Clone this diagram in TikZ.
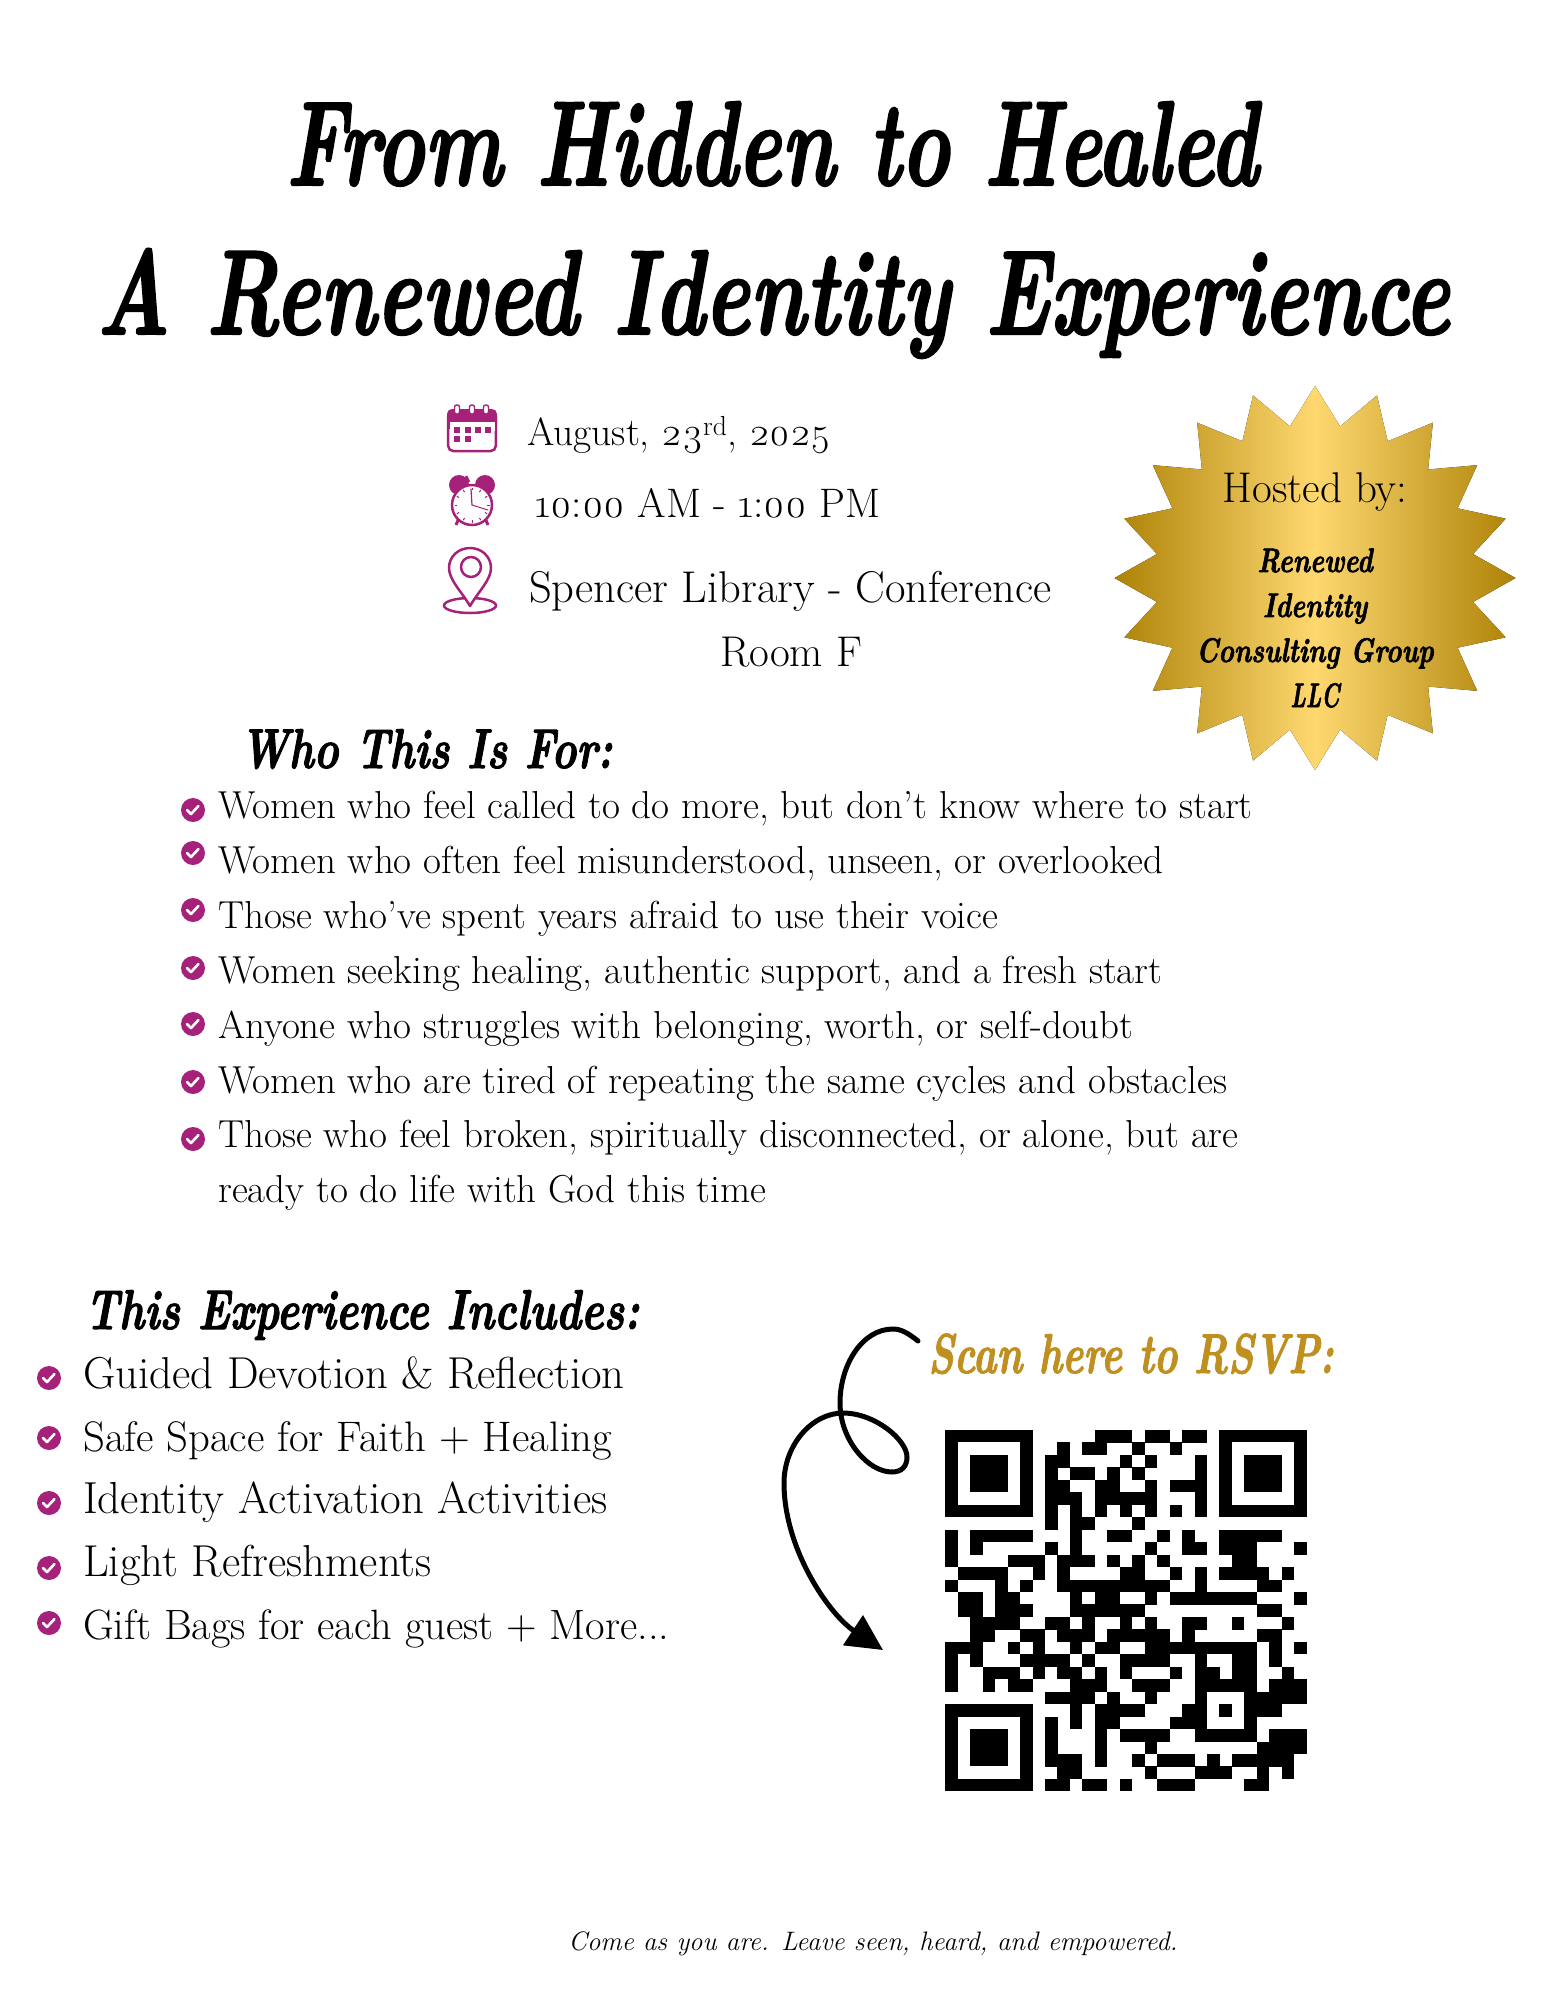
\documentclass[tikz,border=0pt]{standalone}
\usepackage{fontspec}
\setmainfont{Latin Modern Roman}[Numbers=OldStyle]
\newfontfamily\brushfont{Latin Modern Roman}[FakeBold=2]
\usetikzlibrary{arrows.meta}
\definecolor{plumink}{HTML}{A6217A}
\definecolor{goldink}{HTML}{BF9020}
\definecolor{sealedge}{HTML}{AD8207}
\definecolor{sealmid}{HTML}{FED870}
\newcommand{\squeezed}[2]{\scalebox{#1}[1]{#2}}
\begin{document}
\begin{tikzpicture}[x=1pt,y=-1pt,
    titletext/.style ={anchor=base, inner sep=0pt, font=\brushfont\bfseries\itshape\fontsize{120}{124}\selectfont},
    headtext/.style ={anchor=base west, inner sep=0pt, font=\brushfont\bfseries\itshape\fontsize{56}{60}\selectfont},
    sealtext/.style ={anchor=base, inner sep=0pt, font=\brushfont\bfseries\itshape\fontsize{34}{38}\selectfont},
    infotext/.style ={anchor=base west, inner sep=0pt},
    listtext/.style ={anchor=base west, inner sep=0pt, font=\fontsize{39}{42}\selectfont},
    checkdot/.style ={circle, fill=plumink, inner sep=0pt, minimum size=24pt},
    tickline/.style ={draw=white, line width=2.6pt, line cap=round, line join=round},
    plumline/.style ={draw=plumink, line width=2.5pt}]
   \useasboundingbox (0,0) rectangle (1545,2000);

   \node[titletext] (title1) at (772,185) {\squeezed{0.688}{From Hidden to Healed}};
   \node[titletext] (title2) at (773,334) {\squeezed{0.713}{A Renewed Identity Experience}};

   % date, time and place
   \node[infotext, font=\fontsize{39.4}{44}\selectfont] (date) at (527,445) {August, 23\textsuperscript{rd}, 2025};
   \node[infotext, font=\fontsize{41.2}{44}\selectfont] (time) at (535,517) {10:00 AM - 1:00 PM};
   \node[infotext, font=\fontsize{44.5}{48}\selectfont] (place) at (529,602) {Spencer Library - Conference};
   \node[infotext, anchor=base, font=\fontsize{43}{46}\selectfont] (room) at (791,666) {Room F};

   % calendar
   \fill[plumink, rounded corners=5pt] (447,409) rectangle (497,430);
   \draw[plumline, rounded corners=5pt] (448.2,412) rectangle (495.8,451);
   \fill[white] (449.5,421.7) rectangle (494.5,431);
   \foreach \cx in {457,472,486}
     \draw[draw=plumink, line width=1.4pt, fill=white, rounded corners=2pt] (\cx-2.5,405) rectangle (\cx+2.5,414);
   \foreach \cx in {457,468,478,488}
     \fill[plumink] (\cx-3,426.5) rectangle (\cx+3,432.5);
   \foreach \cx in {457,468}
     \fill[plumink] (\cx-3,436) rectangle (\cx+3,442);

   % clock
   \fill[plumink] (459,485) circle (10);
   \fill[plumink] (485,485) circle (10);
   \draw[plumink, line width=2.5pt] (466,476) -- (469,482);
   \draw[plumink, line width=3pt] (459,518) -- (456,525);
   \draw[plumink, line width=3pt] (485,518) -- (488,525);
   \draw[plumline, fill=white] (472,505) circle (20);
   \foreach \a in {0,30,...,330}
     \draw[plumink, line width=1pt] (472,505) ++(\a:15) -- ++(\a:2.5);
   \draw[plumink, line width=1.2pt, line cap=round] (472,505) -- (471,489);
   \draw[plumink, line width=1pt, line cap=round] (472,505) -- (488,510);

   % pin
   \draw[plumline] (470,605.5) ellipse (26 and 7.5);
   \draw[plumline, fill=white, line join=round] (470,606) .. controls (462,592) and (449,580) .. (449,568)
      .. controls (449,556) and (459,548) .. (470,548)
      .. controls (481,548) and (491,556) .. (491,568)
      .. controls (491,580) and (478,592) .. (470,606) -- cycle;
   \draw[plumline] (471,567) circle (10);

   % gold seal
   \fill[left color=sealedge, right color=sealedge, middle color=sealmid]
     plot[samples at={0,...,39}, variable=\n] ({1315+(mod(\n,2)==0 ? 200.5 : 160)*cos(9*\n)},{578+(mod(\n,2)==0 ? 192 : 153.5)*sin(9*\n)}) -- cycle;
   \node[anchor=base, inner sep=0pt, font=\fontsize{43}{46}\selectfont] (host) at (1315,502) {Hosted by:};
   \node[sealtext] (seal1) at (1315,572) {\squeezed{0.78}{Renewed}};
   \node[sealtext] (seal2) at (1315,617) {\squeezed{0.78}{Identity}};
   \node[sealtext] (seal3) at (1315,662) {\squeezed{0.78}{Consulting Group}};
   \node[sealtext] (seal4) at (1315,707) {\squeezed{0.65}{LLC}};

   % who it is for
   \node[headtext] (whohead) at (240,768) {\squeezed{0.75}{Who This Is For:}};
   \foreach \n/\ybase/\ycheck/\txt in {1/818/810/{Women who feel called to do more, but don’t know where to start},
       2/873/853/{Women who often feel misunderstood, unseen, or overlooked},
       3/928/910/{Those who’ve spent years afraid to use their voice},
       4/983/968/{Women seeking healing, authentic support, and a fresh start},
       5/1038/1024/{Anyone who struggles with belonging, worth, or self-doubt},
       6/1093/1082/{Women who are tired of repeating the same cycles and obstacles},
       7/1147/1139/{Those who feel broken, spiritually disconnected, or alone, but are}}{
     \node[checkdot] (whodot\n) at (193,\ycheck) {};
     \draw[tickline] ([shift={(-6,0)}]whodot\n.center) -- ++(4,4) -- ++(7.5,-8);
     \node[listtext] (who\n) at (218,\ybase) {\txt};
   }
   \node[listtext] (who8) at (218,1202) {ready to do life with God this time};

   % what it includes
   \node[headtext] (inclhead) at (85,1329) {\squeezed{0.76}{This Experience Includes:}};
   \foreach \n/\ybase/\ycheck/\fsize/\txt in {1/1388/1378/44.7/{Guided Devotion \& Reflection},
       2/1451/1438/42.7/{Safe Space for Faith + Healing},
       3/1513/1503/44.9/{Identity Activation Activities},
       4/1576/1568/44.7/{Light Refreshments},
       5/1639/1623/42.4/{Gift Bags for each guest + More...}}{
     \node[checkdot] (incldot\n) at (49,\ycheck) {};
     \draw[tickline] ([shift={(-6,0)}]incldot\n.center) -- ++(4,4) -- ++(7.5,-8);
     \node[infotext, font=\fontsize{\fsize}{46}\selectfont] (incl\n) at (83,\ybase) {\txt};
   }

   % rsvp
   \node[headtext, text=goldink] (scan) at (928,1373) {\squeezed{0.71}{Scan here to RSVP:}};
   \coordinate (arrowstart) at (918,1341);
   \coordinate (arrowend) at (883,1650);
   \draw[line width=5pt, line cap=round, -{Triangle[length=36pt,width=35pt]}] (arrowstart)
      .. controls (908,1333) and (901,1329) .. (893,1329)
      .. controls (862,1329) and (840,1365) .. (840,1403)
      .. controls (840,1440) and (868,1472) .. (892,1472)
      .. controls (902,1472) and (907,1466) .. (907,1457)
      .. controls (907,1440) and (875,1413) .. (843,1413)
      .. controls (812,1413) and (784,1445) .. (784,1483)
      .. controls (784,1550) and (830,1615) .. (arrowend);

   % qr code
   \begin{scope}[shift={(945.3,1430)}, x=12.46pt, y=-12.46pt]
     \foreach \ox/\oy in {0/0,22/0,0/22}{
       \fill (\ox,\oy) rectangle ++(7,7);
       \fill[white] (\ox+1,\oy+1) rectangle ++(5,5);
       \fill (\ox+2,\oy+2) rectangle ++(3,3);
     }
     \foreach \rw/\cols in {0/{12,13,14,16,17,19,20},1/{9,11,12,15,18},2/{8,9,14,16,20},3/{8,10,11,13,15,20},
         4/{8,9,12,13,16,18,19,20},5/{8,9,10,12,13,14,15,16,20},6/{8,10,12,14,16,18,20},7/{8,10,11,15},
         8/{0,2,3,4,5,6,10,13,14,17,19,22,23,24,25,26},9/{0,2,8,10,16,19,20,22,23,24,28},
         10/{0,5,6,7,9,10,11,13,15,17,23,24},11/{1,2,3,4,7,9,14,15,18,20,22,23,24,25,27},
         12/{0,4,6,9,10,11,12,13,14,15,16,17,20,25,26},13/{1,2,4,5,10,12,13,16,18,19,20,21,22,23,24,28},
         14/{1,2,4,5,6,10,11,12,13,14,15,25,26},15/{2,3,4,5,8,9,11,14,16,19,20,23,27},
         16/{2,3,6,7,9,10,11,13,14,15,16,17,19,25,26},17/{0,1,2,5,7,10,12,13,16,17,18,19,20,21,22,23,24,26,28},
         18/{0,2,6,7,8,9,11,14,15,16,17,20,23,24,26},19/{0,3,4,5,7,9,10,12,14,18,20,21,23,24,27},
         20/{0,3,5,6,10,11,12,15,16,17,20,21,22,23,24,26,27,28},21/{8,9,10,11,13,16,20,24,25,26,27,28},
         22/{10,12,13,14,15,19,20,22,24,25,26},23/{8,10,12,13,18,19,20,24},
         24/{8,12,14,15,16,17,20,21,22,23,24,26,27,28},25/{8,12,16,25,26,27,28},
         26/{8,9,10,12,15,17,18,19,21,23,24,25,26,27},27/{9,10,16,20,21,22,25,27},
         28/{8,9,11,12,14,17,18,19,24,25}}{
       \foreach \cl in \cols
         \fill (\cl,\rw) rectangle ++(1.01,1.01);
     }
   \end{scope}

   \node[anchor=base, inner sep=0pt, font=\itshape\fontsize{26.7}{30}\selectfont] (motto) at (873,1950) {Come as you are. Leave seen, heard, and empowered.};
 \end{tikzpicture}
\end{document}
